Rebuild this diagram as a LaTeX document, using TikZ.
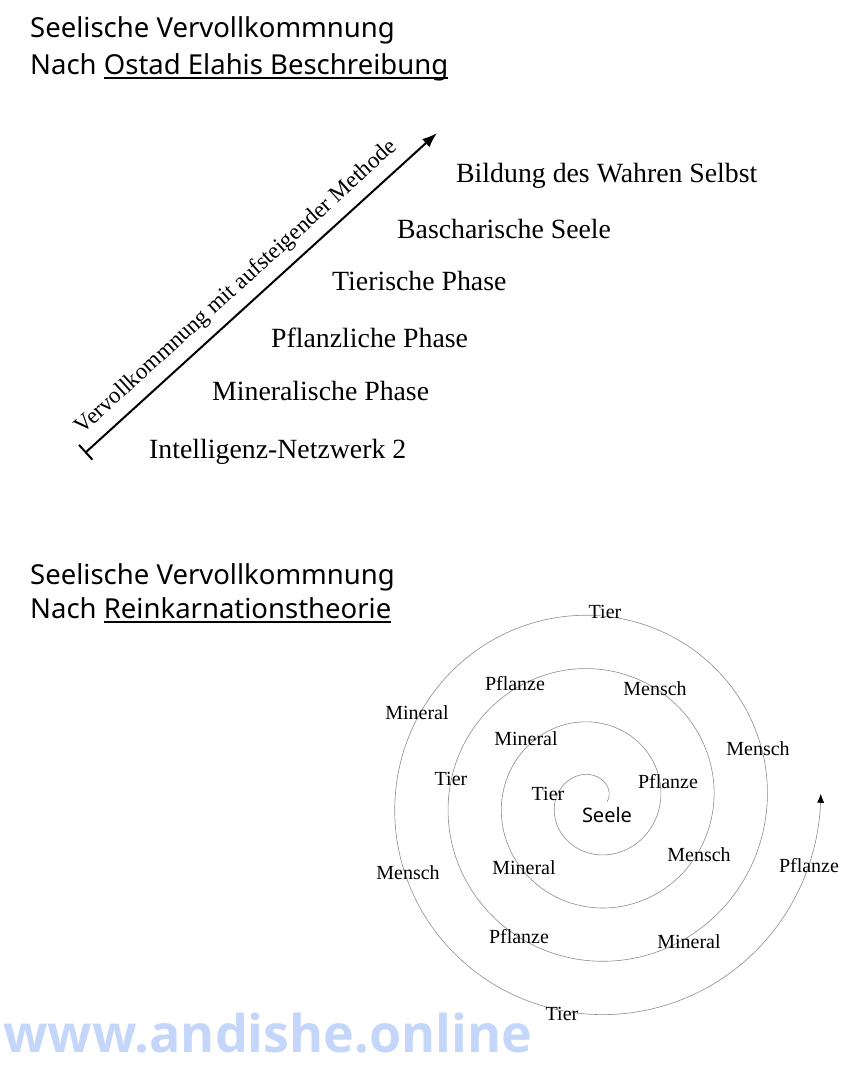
\documentclass[tikz,border=0pt]{standalone}
\usepackage{fontspec}
\setmainfont{Liberation Serif}
\newfontfamily\headfont{Noto Sans}
\newfontfamily\wmfont{Open Sans}
\usetikzlibrary{arrows.meta}
\definecolor{wmblue}{HTML}{C4D7FA}
\newcommand\ulin[1]{\setbox0\hbox{#1}\rlap{\rule[-4.5pt]{\wd0}{1.6pt}}\box0}
\begin{document}
\begin{tikzpicture}[x=1pt,y=-1pt,
    head/.style={font=\headfont\fontsize{27.5}{32}\selectfont, anchor=base west, inner sep=0pt},
    phase/.style={font=\fontsize{27.8}{32}\selectfont, anchor=base west, inner sep=0pt},
    lbl/.style={font=\fontsize{20}{24}\selectfont, inner sep=0pt},
    spiral/.style={draw=black!45, line width=0.6pt}]
    % \draw[step=50,help lines] (0,0) grid (855,1069);
    \useasboundingbox (0,0) rectangle (855,1069);

    \node[head] (h1) at (30,37) {Seelische Vervollkommnung};
    \node[head] (h2) at (30,74) {Nach \ulin{Ostad Elahis Beschreibung}};

    \node[phase] (p6) at (456,182) {Bildung des Wahren Selbst};
    \node[phase] (p5) at (397,238) {Bascharische Seele};
    \node[phase] (p4) at (332,290) {Tierische Phase};
    \node[phase] (p3) at (271,347) {Pflanzliche Phase};
    \node[phase] (p2) at (212,400) {Mineralische Phase};
    \node[phase] (p1) at (149,458) {Intelligenz-Netzwerk 2};

    \coordinate (lo) at (85,453);
    \coordinate (hi) at (437,133);
    \draw[line width=2pt, {Bar[width=20pt]}-{Latex[length=15pt,width=11pt]}] (lo) --
      node[sloped, pos=0.47, above=9pt, inner sep=0pt, font=\fontsize{23}{26}\selectfont] (meth)
      {Vervollkommnung mit aufsteigender Methode} (hi);

    \node[head] (h3) at (30,584) {Seelische Vervollkommnung};
    \node[head] (h4) at (30,618) {Nach \ulin{Reinkarnationstheorie}};

    \draw[spiral, -{Latex[length=9pt,width=7pt,color=black]}]
      plot[domain=0:1442, samples=600, smooth]
      ({594.4+(12.6+0.148353*\x)*cos(\x)}, {801.6-(12.6+0.148353*\x)*sin(\x)});

    \foreach \px/\py/\t [count=\i] in {605/612/Tier, 515/684/Pflanze, 655/689/Mensch,
        417/713/Mineral, 758/749/Mensch, 526/739/Mineral, 451/779/Tier, 668/782/Pflanze,
        548/794/Tier, 699/855/Mensch, 524/868/Mineral, 408/873/Mensch, 809/866/Pflanze,
        519/937/Pflanze, 689/942/Mineral, 562/1014/Tier}
      \node[lbl] (s\i) at (\px,\py) {\t};
    \node[lbl, font=\headfont\fontsize{20}{24}\selectfont] (seele) at (607,815) {Seele};

    \node[anchor=base west, inner sep=0pt, text=wmblue, font=\wmfont\bfseries\fontsize{52}{60}\selectfont]
      (wm) at (3,1052) {www.andishe.online};
\end{tikzpicture}
\end{document}
